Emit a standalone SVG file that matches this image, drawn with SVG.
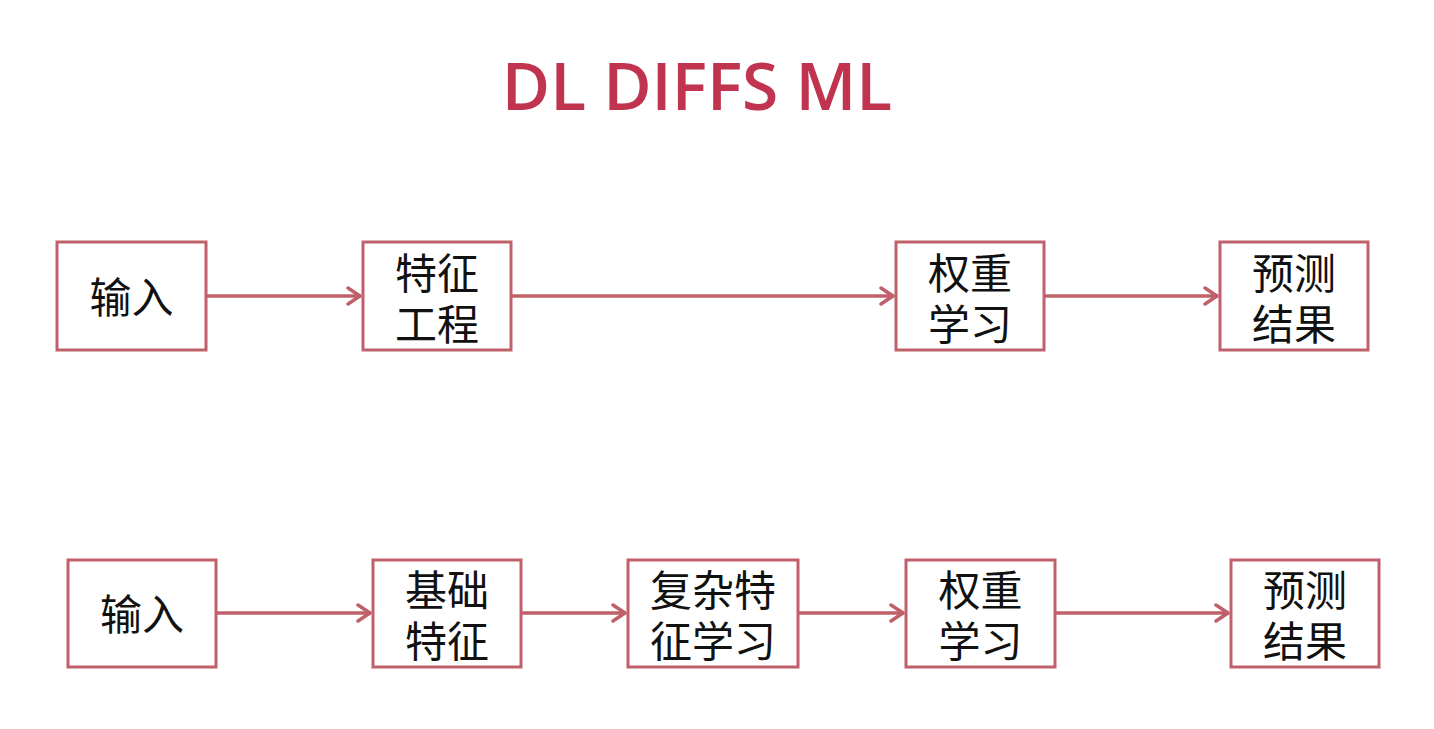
<svg xmlns="http://www.w3.org/2000/svg" width="1434" height="729" viewBox="0 0 1434 729">
<style>
.box{fill:#fff;stroke:#c0606a;stroke-width:3}
.t{font-family:"Noto Sans CJK SC","Liberation Sans",sans-serif;font-size:42px;fill:#111;text-anchor:middle}
.c{stroke:#c0606a;stroke-width:3.5;fill:none}
.title{font-family:"Open Sans","Liberation Sans",sans-serif;font-weight:600;font-size:66px;fill:#c0344f;text-anchor:middle}
</style>
<defs>
<marker id="ah" viewBox="0 0 16 20" refX="15" refY="10" markerWidth="16" markerHeight="20" markerUnits="userSpaceOnUse" orient="auto">
<path d="M2,2 L14,10 L2,18" fill="none" stroke="#c0606a" stroke-width="3.5" stroke-linecap="round" stroke-linejoin="round"/>
</marker>
</defs>
<rect width="1434" height="729" fill="#fff"/>
<text class="title" x="697" y="110">DL DIFFS ML</text>
<g id="connectors">
<line class="c" x1="206" y1="296" x2="361" y2="296" marker-end="url(#ah)"/>
<line class="c" x1="511" y1="296" x2="894" y2="296" marker-end="url(#ah)"/>
<line class="c" x1="1044" y1="296" x2="1218" y2="296" marker-end="url(#ah)"/>
<line class="c" x1="216" y1="613" x2="371" y2="613" marker-end="url(#ah)"/>
<line class="c" x1="521" y1="613" x2="626" y2="613" marker-end="url(#ah)"/>
<line class="c" x1="798" y1="613" x2="904" y2="613" marker-end="url(#ah)"/>
<line class="c" x1="1055" y1="613" x2="1229" y2="613" marker-end="url(#ah)"/>
</g>
<g id="a1"><rect class="box" x="57" y="242" width="149" height="108"/><text class="t" x="131.5" y="313">输入</text></g>
<g id="a2"><rect class="box" x="363" y="242" width="148" height="108"/><text class="t" y="289"><tspan x="437">特征</tspan><tspan x="437" dy="51">工程</tspan></text></g>
<g id="a3"><rect class="box" x="896" y="242" width="148" height="108"/><text class="t" y="289"><tspan x="970">权重</tspan><tspan x="970" dy="51">学习</tspan></text></g>
<g id="a4"><rect class="box" x="1220" y="242" width="148" height="108"/><text class="t" y="289"><tspan x="1294">预测</tspan><tspan x="1294" dy="51">结果</tspan></text></g>
<g id="b1"><rect class="box" x="68" y="560" width="148" height="107"/><text class="t" x="142" y="630">输入</text></g>
<g id="b2"><rect class="box" x="373" y="560" width="148" height="107"/><text class="t" y="606"><tspan x="447">基础</tspan><tspan x="447" dy="51">特征</tspan></text></g>
<g id="b3"><rect class="box" x="628" y="560" width="170" height="107"/><text class="t" y="606"><tspan x="713">复杂特</tspan><tspan x="713" dy="51">征学习</tspan></text></g>
<g id="b4"><rect class="box" x="906" y="560" width="149" height="107"/><text class="t" y="606"><tspan x="980.5">权重</tspan><tspan x="980.5" dy="51">学习</tspan></text></g>
<g id="b5"><rect class="box" x="1231" y="560" width="148" height="107"/><text class="t" y="606"><tspan x="1305">预测</tspan><tspan x="1305" dy="51">结果</tspan></text></g>
</svg>
